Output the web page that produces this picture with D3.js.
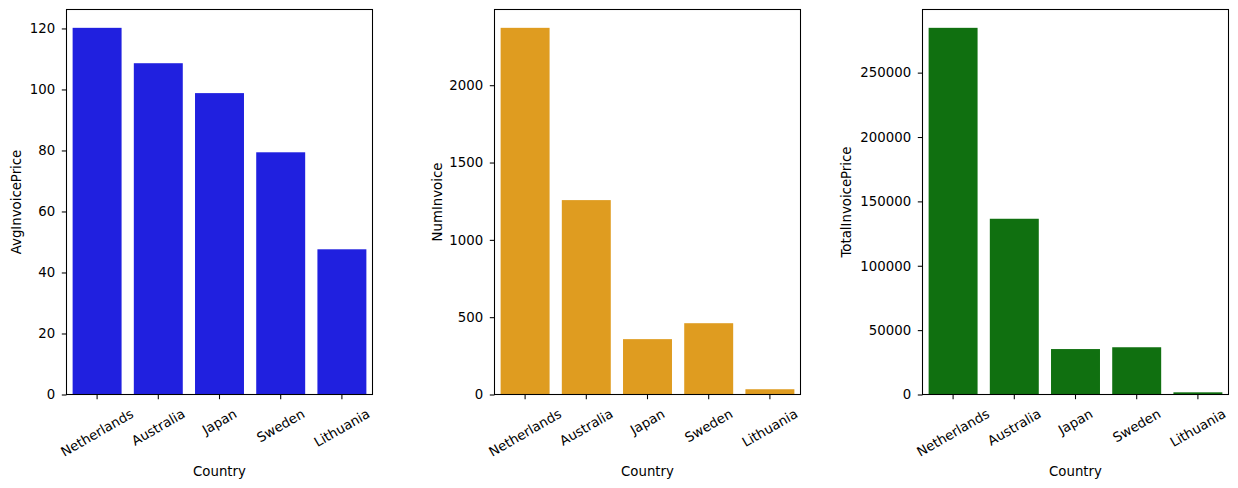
<!DOCTYPE html>
<html>
<head>
<meta charset="utf-8">
<script src="https://cdn.jsdelivr.net/npm/d3@7"></script>
<style>
  html, body { margin: 0; padding: 0; background: #fff; }
  svg { display: block; font-family: "DejaVu Sans", sans-serif; }
</style>
</head>
<body>
<svg id="chart" width="1238" height="488"></svg>
<script>
const countries = ["Netherlands", "Australia", "Japan", "Sweden", "Lithuania"];
const avgInvoicePrice = [120.2, 108.6, 98.8, 79.4, 47.6];
const numInvoice = [2371, 1257, 358, 461, 34];
const totalInvoicePrice = [284800, 136500, 35300, 36700, 1700];
const avgTicks = [0, 20, 40, 60, 80, 100, 120];
const numTicks = [0, 500, 1000, 1500, 2000];
const totalTicks = [0, 50000, 100000, 150000, 200000, 250000];

const panels = [
  { values: avgInvoicePrice, ticks: avgTicks, label: "AvgInvoicePrice", color: "#2020df", left: 66.5, ylabX: 21 },
  { values: numInvoice, ticks: numTicks, label: "NumInvoice", color: "#df9c20", left: 494.5, ylabX: 442 },
  { values: totalInvoicePrice, ticks: totalTicks, label: "TotalInvoicePrice", color: "#107010", left: 922.5, ylabX: 850.5 }
];

const svg = d3.select("#chart");
const plotTop = 9.5, plotBottom = 394.5, plotWidth = 306;
const fs = 13.3;
const tickLen = 4.7, pad = 4.7;

panels.forEach(p => {
  const x = d3.scaleBand().domain(countries).range([p.left, p.left + plotWidth]).paddingInner(0.2).paddingOuter(0.1);
  const y = d3.scaleLinear().domain([0, d3.max(p.values) * 1.05]).range([plotBottom, plotTop]);
  const g = svg.append("g");

  g.selectAll("rect.bar").data(countries).enter().append("rect")
    .attr("class", "bar")
    .attr("x", d => x(d))
    .attr("width", x.bandwidth())
    .attr("y", (d, i) => y(p.values[i]))
    .attr("height", (d, i) => plotBottom - y(p.values[i]))
    .attr("fill", p.color);

  // y axis
  const yAxis = d3.axisLeft(y).tickValues(p.ticks).tickFormat(d3.format("d")).tickSizeInner(tickLen).tickSizeOuter(0).tickPadding(pad + 2);
  const ya = g.append("g").attr("transform", `translate(${p.left},0)`).call(yAxis);
  ya.select(".domain").remove();
  ya.selectAll("line").attr("stroke", "#000").attr("stroke-width", 1.07);
  ya.selectAll("text").attr("font-size", fs).attr("fill", "#000").attr("font-family", "DejaVu Sans");

  // x axis ticks
  const xAxis = d3.axisBottom(x).tickSizeInner(tickLen).tickSizeOuter(0).tickFormat("");
  const xa = g.append("g").attr("transform", `translate(0,${plotBottom})`).call(xAxis);
  xa.select(".domain").remove();
  xa.selectAll("line").attr("stroke", "#000").attr("stroke-width", 1.07);

  // rotated x tick labels
  const h = fs * 1.164;
  countries.forEach(c => {
    const t = g.append("text")
      .attr("font-size", fs)
      .attr("text-anchor", "middle")
      .attr("dominant-baseline", "central")
      .attr("fill", "#000")
      .text(c);
    const w = t.node().getComputedTextLength();
    const bboxH = w * 0.5 + h * Math.cos(Math.PI / 6);
    const cx = x(c) + x.bandwidth() / 2;
    const cy = plotBottom + tickLen + pad + 2 + bboxH / 2;
    t.attr("transform", `translate(${cx},${cy}) rotate(-30)`);
  });

  // frame
  g.append("rect")
    .attr("x", p.left).attr("y", plotTop)
    .attr("width", plotWidth).attr("height", plotBottom - plotTop)
    .attr("fill", "none").attr("stroke", "#000").attr("stroke-width", 1.07);

  // x label
  g.append("text")
    .attr("x", p.left + plotWidth / 2).attr("y", 475.5)
    .attr("text-anchor", "middle").attr("font-size", fs).attr("fill", "#000")
    .text("Country");

  // y label
  g.append("text")
    .attr("transform", `translate(${p.ylabX},${(plotTop + plotBottom) / 2}) rotate(-90)`)
    .attr("text-anchor", "middle").attr("font-size", fs).attr("fill", "#000")
    .text(p.label);
});
</script>
</body>
</html>
